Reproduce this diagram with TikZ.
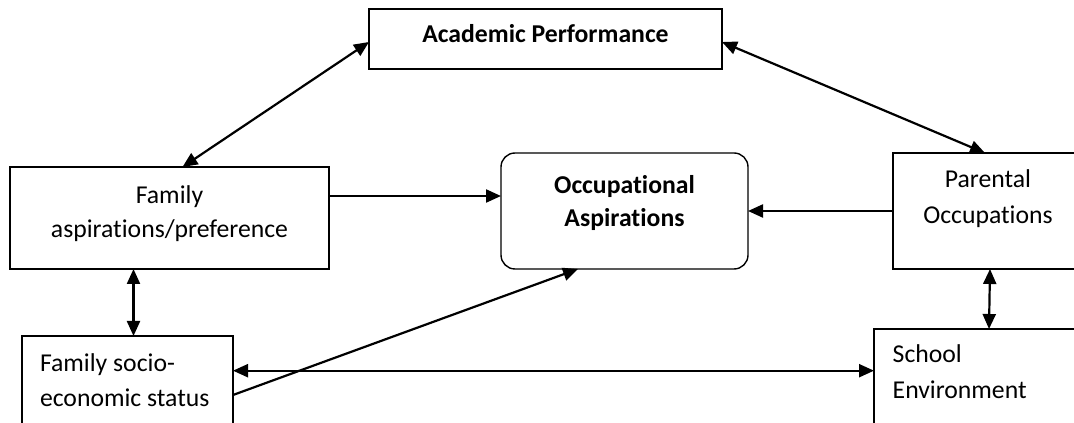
\documentclass[tikz,border=0pt]{standalone}
\usepackage{fontspec}
\setmainfont{Carlito}[Ligatures={NoCommon,TeX}]
\usetikzlibrary{arrows.meta,calc}
\begin{document}
\begin{tikzpicture}[x=1pt,y=1pt,
  box/.style={draw,line width=1.4pt,minimum width=#1,inner sep=0pt,outer sep=0pt},
  txt/.style={inner sep=0pt,outer sep=0pt,font=\fontsize{25.7}{35}\selectfont,align=center,anchor=base},
  txtl/.style={inner sep=0pt,outer sep=0pt,font=\fontsize{25.7}{35}\selectfont,align=left,anchor=base west},
  link/.style={line width=2.2pt,{Triangle[length=15pt,width=13pt]}-{Triangle[length=15pt,width=13pt]}},
  one/.style={line width=2.2pt,-{Triangle[length=15pt,width=13pt]}}]
\useasboundingbox (0,0) rectangle (1074,423);
\clip (0,0) rectangle (1074,423);
% boxes
\node[box=353pt,minimum height=60pt] (ap) at (545.5,384) {};
\node[box=319pt,minimum height=102pt] (fa) at (169.5,205) {};
\node[box=247pt,minimum height=116pt,rounded corners=14pt] (oa) at (624.5,212) {};
\node[box=200pt,minimum height=116pt] (po) at (993,212) {};
\node[box=211pt,minimum height=114pt] (fs) at (127.5,30) {};
\node[box=220pt,minimum height=121pt] (se) at (984,33.5) {};
% texts
\node[txt,font=\fontsize{25.7}{35}\selectfont\bfseries] (tap) at (545.5,380) {Academic Performance};
\node[txt] (tfa1) at (169.5,219.7) {Family};
\node[txt] (tfa2) at (169.5,185.7) {aspirations/preference};
\node[txt,font=\fontsize{25.7}{35}\selectfont\bfseries] (toa1) at (624.5,229.7) {Occupational};
\node[txt,font=\fontsize{25.7}{35}\selectfont\bfseries] (toa2) at (624.5,196) {Aspirations};
\node[txt] (tpo1) at (988,235.7) {Parental};
\node[txt] (tpo2) at (988,199.7) {Occupations};
\node[txtl] (tfs1) at (40,51) {Family socio-};
\node[txtl] (tfs2) at (40,16.3) {economic status};
\node[txtl] (tse1) at (892.7,60.3) {School};
\node[txtl] (tse2) at (892.7,24.3) {Environment};
% connectors
\draw[link] ([xshift=172.5pt]fa.north west) -- ([yshift=-3pt]ap.west);
\draw[link] ([yshift=-3pt]ap.east) -- ([xshift=92pt]po.north west);
\draw[one] ([yshift=22pt]fa.east) -- ([yshift=22pt]fa.east -| oa.west);
\draw[one] (po.west) -- (oa.east);
\draw[link] ([xshift=123.5pt]fa.south west) -- ([xshift=123.5pt]fa.south west |- fs.north);
\draw[link] ([xshift=97pt]po.south west) -- ([xshift=96pt]po.south west |- se.north);
\draw[link] ([yshift=22.3pt]fs.east) -- ([yshift=22.3pt]fs.east -| se.west);
\draw[one] ([yshift=-2pt]fs.east) -- ([xshift=-46.5pt]oa.south);
\end{tikzpicture}
\end{document}
